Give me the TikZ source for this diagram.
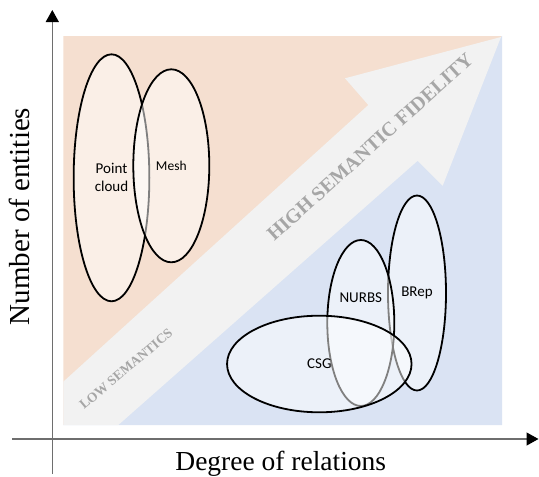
\documentclass[tikz,border=0pt]{standalone}
\usepackage{fontspec}
\setmainfont{Liberation Serif}
\newfontfamily\carlito{Carlito}
\usetikzlibrary{arrows.meta,shapes.geometric}
\definecolor{peach}{RGB}{245,223,208}
\definecolor{paleblue}{RGB}{218,227,243}
\definecolor{bandgray}{RGB}{242,242,242}
\definecolor{bandtext}{RGB}{166,166,166}
\definecolor{axisgray}{RGB}{110,110,110}

\begin{document}
\begin{tikzpicture}[x=1pt,y=-1pt,
  blob/.style={draw=black,line width=1.8pt,ellipse,inner sep=0pt,fill=white,fill opacity=0.5,text opacity=1,
    font=\carlito\fontsize{15}{18}\selectfont,align=center},
  axisline/.style={draw=axisgray,line width=1.3pt,-{Triangle[length=12pt,width=13pt,color=black]}},
  bandlbl/.style={text=bandtext,font=\bfseries}]
\useasboundingbox (0,0) rectangle (539,477);
% background: two halves and the big arrow
\fill[peach] (63.3,36) -- (502,36) -- (63.3,425) -- cycle;
\fill[paleblue] (502,36) -- (502,425) -- (63.3,425) -- cycle;
\fill[bandgray] (63.3,381.7) -- (368.3,105) -- (345,78.3) -- (501,37) -- (442.7,185.7) -- (417.7,160.7) -- (118.3,425) -- (63.3,425) -- cycle;
\node[bandlbl,rotate=42,font=\bfseries\fontsize{20}{22}\selectfont] (high) at (370,147) {HIGH SEMANTIC FIDELITY};
\node[bandlbl,rotate=40,font=\bfseries\fontsize{13.5}{16}\selectfont] (low) at (126,369) {LOW SEMANTICS};
% representations
\node[blob,minimum width=75.7pt,minimum height=247pt] (pc) at (111.5,177.8) {Point\\cloud};
\node[blob,minimum width=76pt,minimum height=193pt,font=\carlito\fontsize{13.5}{16}\selectfont] (mesh) at (171.3,165.8) {Mesh};
\node[blob,minimum width=58pt,minimum height=195pt] (brep) at (417,293) {BRep};
\node[blob,minimum width=67pt,minimum height=166pt,
  label={[font=\carlito\fontsize{15}{18}\selectfont,yshift=25pt]center:NURBS}] (nurbs) at (360.8,323) {};
\node[blob,minimum width=184.5pt,minimum height=96.6pt] (csg) at (319.3,364) {CSG};
% axes
\coordinate (ybot) at (52.3,474);
\coordinate (ytop) at (52.3,10);
\coordinate (xleft) at (12.3,439);
\coordinate (xright) at (538.5,439);
\draw[axisline] (ybot) -- (ytop);
\draw[axisline] (xleft) -- (xright);
\node[anchor=base,font=\fontsize{27.5}{32}\selectfont] (xlbl) at (280.8,470.5) {Degree of relations};
\node[rotate=90,anchor=base,font=\fontsize{29}{32}\selectfont] (ylbl) at (30,216.5) {Number of entities};
\end{tikzpicture}
\end{document}
